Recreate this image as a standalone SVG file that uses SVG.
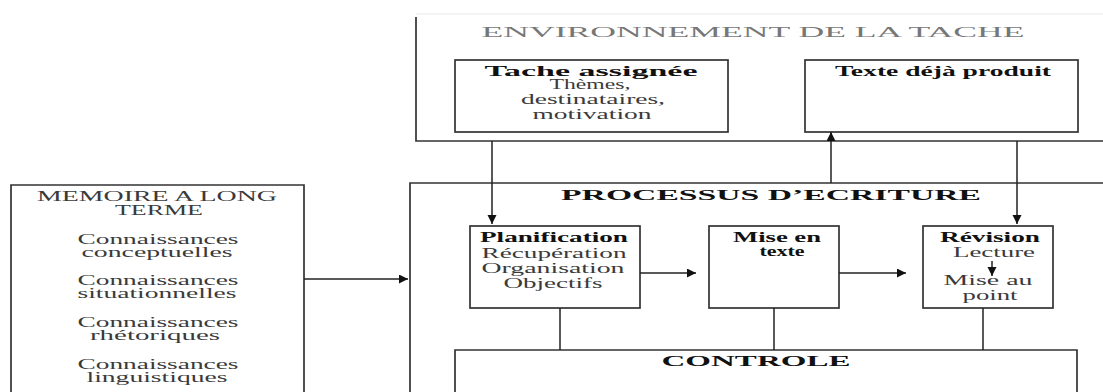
<svg xmlns="http://www.w3.org/2000/svg" width="1103" height="392" viewBox="0 0 1103 392">
<defs>
<marker id="ah" markerUnits="userSpaceOnUse" markerWidth="10" markerHeight="10" refX="9" refY="4.5" orient="auto">
<path d="M0,0 L9,4.5 L0,9 z" fill="#111"/>
</marker>
<style>
.box{fill:none;stroke:#333;stroke-width:1.7}
.ln{fill:none;stroke:#222;stroke-width:1.5}
.t{font-family:"Liberation Serif","Times New Roman",serif;font-size:14px;fill:#3a3a3a;text-anchor:middle}
.b{font-family:"Liberation Serif","Times New Roman",serif;font-size:14px;font-weight:bold;fill:#111;text-anchor:middle}
.h{font-family:"Liberation Serif","Times New Roman",serif;font-size:15px;font-weight:bold;fill:#111;text-anchor:middle}
.g{font-family:"Liberation Serif","Times New Roman",serif;font-size:15px;fill:#777;text-anchor:middle}
</style>
</defs>
<rect width="1103" height="392" fill="#fff"/>

<g id="environnement">
<line x1="416" y1="14" x2="1103" y2="14" stroke="#f0f0f0" stroke-width="1.5"/>
<path class="box" d="M416,17 V141 H1103"/>
<text class="g" x="753" y="37" textLength="543" lengthAdjust="spacingAndGlyphs">ENVIRONNEMENT DE LA TACHE</text>
</g>

<g id="tache-assignee">
<rect class="box" x="455" y="60" width="273" height="72"/>
<text class="h" x="591" y="76" textLength="213" lengthAdjust="spacingAndGlyphs">Tache assignée</text>
<text class="t" x="590" y="89" textLength="81" lengthAdjust="spacingAndGlyphs">Thèmes,</text>
<text class="t" x="593" y="104" textLength="144" lengthAdjust="spacingAndGlyphs">destinataires,</text>
<text class="t" x="592" y="119" textLength="119" lengthAdjust="spacingAndGlyphs">motivation</text>
</g>

<g id="texte-deja-produit">
<rect class="box" x="805" y="60" width="273" height="72"/>
<text class="b" x="943" y="76" textLength="216" lengthAdjust="spacingAndGlyphs">Texte déjà produit</text>
</g>

<g id="processus">
<path class="box" d="M410,393 V183 H1103"/>
<text class="h" x="771" y="200" textLength="420" lengthAdjust="spacingAndGlyphs">PROCESSUS D’ECRITURE</text>
</g>

<g id="planification">
<rect class="box" x="470" y="226" width="170" height="82"/>
<text class="b" x="554" y="242" textLength="148" lengthAdjust="spacingAndGlyphs">Planification</text>
<text class="t" x="554" y="258" textLength="145" lengthAdjust="spacingAndGlyphs">Récupération</text>
<text class="t" x="553" y="273" textLength="143" lengthAdjust="spacingAndGlyphs">Organisation</text>
<text class="t" x="553" y="288" textLength="99" lengthAdjust="spacingAndGlyphs">Objectifs</text>
</g>

<g id="mise-en-texte">
<rect class="box" x="709" y="226" width="130" height="82"/>
<text class="b" x="777" y="242" textLength="88" lengthAdjust="spacingAndGlyphs">Mise en</text>
<text class="b" x="782" y="256" textLength="45" lengthAdjust="spacingAndGlyphs">texte</text>
</g>

<g id="revision">
<rect class="box" x="923" y="226" width="130" height="82"/>
<text class="b" x="990" y="242" textLength="100" lengthAdjust="spacingAndGlyphs">Révision</text>
<text class="t" x="994" y="257" textLength="82" lengthAdjust="spacingAndGlyphs">Lecture</text>
<text class="t" x="988" y="285" textLength="89" lengthAdjust="spacingAndGlyphs">Mise au</text>
<text class="t" x="990" y="300" textLength="55" lengthAdjust="spacingAndGlyphs">point</text>
</g>

<g id="controle">
<path class="box" d="M455,393 V350 H1077 V393"/>
<text class="h" x="756" y="366" textLength="189" lengthAdjust="spacingAndGlyphs">CONTROLE</text>
</g>

<g id="memoire">
<path class="box" d="M11,393 V185 H304 V393"/>
<text class="t" x="157" y="201" textLength="240" lengthAdjust="spacingAndGlyphs">MEMOIRE A LONG</text>
<text class="t" x="159" y="215" textLength="88" lengthAdjust="spacingAndGlyphs">TERME</text>
<text class="t" x="158" y="244" textLength="161" lengthAdjust="spacingAndGlyphs">Connaissances</text>
<text class="t" x="157" y="257" textLength="151" lengthAdjust="spacingAndGlyphs">conceptuelles</text>
<text class="t" x="158" y="285" textLength="161" lengthAdjust="spacingAndGlyphs">Connaissances</text>
<text class="t" x="157" y="298" textLength="159" lengthAdjust="spacingAndGlyphs">situationnelles</text>
<text class="t" x="158" y="327" textLength="161" lengthAdjust="spacingAndGlyphs">Connaissances</text>
<text class="t" x="155" y="340" textLength="130" lengthAdjust="spacingAndGlyphs">rhétoriques</text>
<text class="t" x="158" y="369" textLength="161" lengthAdjust="spacingAndGlyphs">Connaissances</text>
<text class="t" x="157" y="382" textLength="141" lengthAdjust="spacingAndGlyphs">linguistiques</text>
</g>

<g id="connectors">
<line class="ln" x1="492" y1="141" x2="492" y2="224" marker-end="url(#ah)"/>
<line class="ln" x1="1017" y1="141" x2="1017" y2="224" marker-end="url(#ah)"/>
<line class="ln" x1="831" y1="183" x2="831" y2="132" marker-end="url(#ah)"/>
<line class="ln" x1="304" y1="279" x2="408" y2="279" marker-end="url(#ah)"/>
<line class="ln" x1="640" y1="273" x2="696" y2="273" marker-end="url(#ah)"/>
<line class="ln" x1="839" y1="273" x2="906" y2="273" marker-end="url(#ah)"/>
<line class="ln" x1="992" y1="261" x2="992" y2="276" marker-end="url(#ah)"/>
<line class="ln" x1="560" y1="308" x2="560" y2="350"/>
<line class="ln" x1="774" y1="308" x2="774" y2="350"/>
<line class="ln" x1="983" y1="308" x2="983" y2="350"/>
</g>
</svg>
